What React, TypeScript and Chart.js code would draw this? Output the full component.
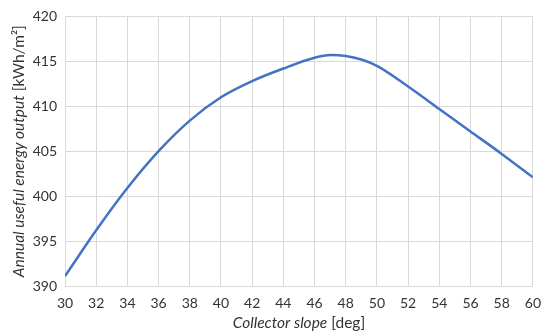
import React, { useEffect, useRef } from "react";
import { Chart, registerables } from "chart.js";

Chart.register(...registerables);

const slopes = [30, 32, 34, 36, 38, 40, 42, 44, 46, 47, 48, 49, 50, 52, 54, 56, 58, 60];
const outputs = [391.1, 396.2, 400.9, 405.0, 408.4, 411.0, 412.8, 414.2, 415.4, 415.7, 415.6, 415.2, 414.5, 412.2, 409.7, 407.2, 404.7, 402.1];
const yTitleItalic = "Annual useful energy output";
const yTitleNormal = " [kWh/m²]";
const xTitleItalic = "Collector slope";
const xTitleNormal = " [deg]";

const FONT = "Lato, 'Open Sans', sans-serif";
const TEXT_COLOR = "#333333";

const titlePlugin = {
  id: "mixedTitles",
  afterDraw(chart: any) {
    const ctx = chart.ctx as CanvasRenderingContext2D;
    const area = chart.chartArea;
    ctx.save();
    ctx.fillStyle = TEXT_COLOR;
    ctx.textBaseline = "middle";
    ctx.textAlign = "left";
    const drawMixed = (italic: string, normal: string) => {
      ctx.font = `italic 15.5px ${FONT}`;
      const w1 = ctx.measureText(italic).width;
      ctx.font = `15.5px ${FONT}`;
      const w2 = ctx.measureText(normal).width;
      const total = w1 + w2;
      ctx.font = `italic 15.5px ${FONT}`;
      ctx.fillText(italic, -total / 2, 0);
      ctx.font = `15.5px ${FONT}`;
      ctx.fillText(normal, -total / 2 + w1, 0);
    };
    ctx.save();
    ctx.translate((area.left + area.right) / 2, 323);
    drawMixed(xTitleItalic, xTitleNormal);
    ctx.restore();
    ctx.save();
    ctx.translate(19, (area.top + area.bottom) / 2);
    ctx.rotate(-Math.PI / 2);
    drawMixed(yTitleItalic, yTitleNormal);
    ctx.restore();
    ctx.restore();
  },
};

export default function App() {
  const ref = useRef<HTMLCanvasElement | null>(null);
  useEffect(() => {
    document.body.style.margin = "0";
    const canvas = ref.current!;
    const chart = new Chart(canvas, {
      type: "line",
      data: {
        datasets: [
          {
            data: slopes.map((s, i) => ({ x: s, y: outputs[i] })),
            borderColor: "#4472C4",
            borderWidth: 2.5,
            pointRadius: 0,
            cubicInterpolationMode: "monotone",
            fill: false,
          },
        ],
      },
      options: {
        animation: false,
        responsive: false,
        maintainAspectRatio: false,
        layout: { padding: { left: 0, right: 13, top: 10, bottom: 0 } },
        plugins: { legend: { display: false }, tooltip: { enabled: false } },
        scales: {
          x: {
            type: "linear",
            min: 30,
            max: 60,
            ticks: { stepSize: 2, color: TEXT_COLOR, font: { family: FONT, size: 14 }, padding: 9 },
            grid: { color: "#d9d9d9", lineWidth: 1, drawTicks: false },
            border: { color: "#d9d9d9" },
            afterFit: (s: any) => { s.height = 49; },
          },
          y: {
            min: 390,
            max: 420,
            ticks: { stepSize: 5, color: TEXT_COLOR, font: { family: FONT, size: 14 }, padding: 8 },
            grid: { color: "#d9d9d9", lineWidth: 1, drawTicks: false },
            border: { color: "#d9d9d9" },
            afterFit: (s: any) => { s.width = 65; },
          },
        },
      },
      plugins: [titlePlugin],
    } as any);
    return () => chart.destroy();
  }, []);
  return (
    <div style={{ width: 550, height: 335 }}>
      <canvas ref={ref} width={550} height={335} style={{ width: 550, height: 335 }} />
    </div>
  );
}
